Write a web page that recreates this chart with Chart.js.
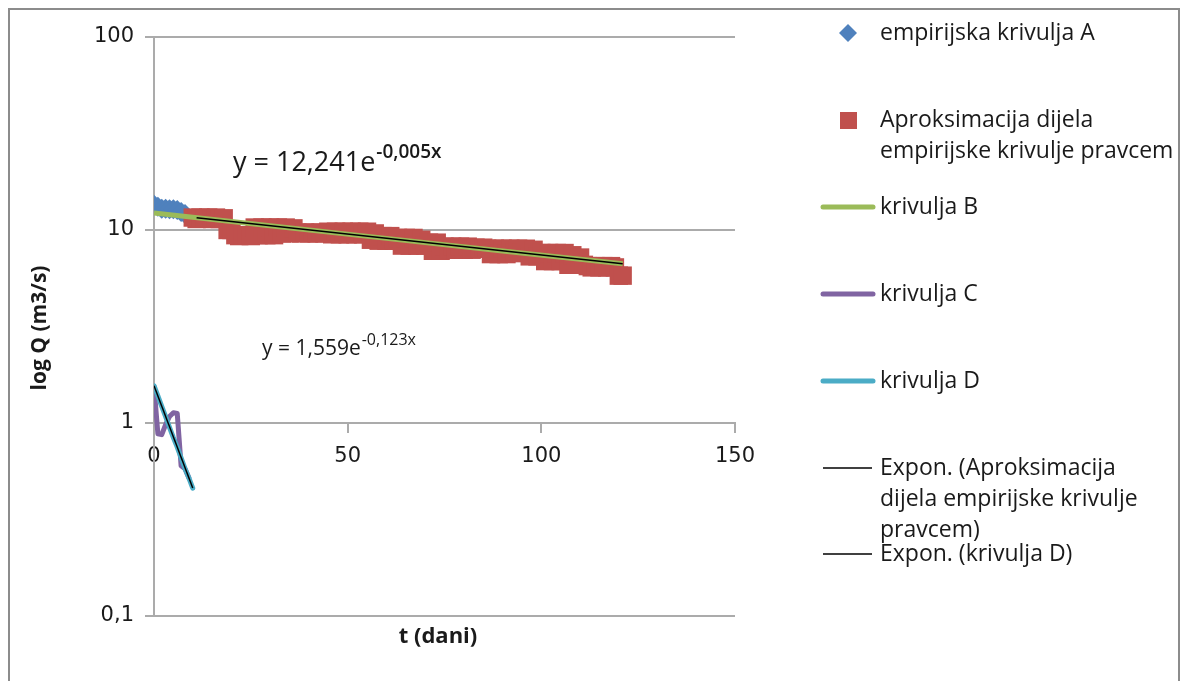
<!DOCTYPE html>
<html>
<head>
<meta charset="utf-8">
<script src="https://cdn.jsdelivr.net/npm/chart.js@4.4.0/dist/chart.umd.min.js"></script>
<style>
  html, body { margin: 0; padding: 0; background: #fff; }
  #wrap { position: relative; width: 1186px; height: 681px; overflow: hidden; }
</style>
</head>
<body>
<div id="wrap">
  <canvas id="qChart" width="1186" height="681"></canvas>
</div>
<script>
// Data
const daysA = [0, 1, 2, 3, 4, 5, 6, 7, 8];
const qA = [13.5, 13.2, 12.9, 12.9, 12.8, 12.8, 12.7, 12.4, 12.1];

const daysRed = [10, 11, 12, 13, 14, 15, 16, 17, 18, 19, 20, 21, 22, 23, 24, 25, 26, 27, 28, 29,
  30, 31, 32, 33, 34, 35, 36, 37, 38, 39, 40, 41, 42, 43, 44, 45, 46, 47, 48, 49,
  50, 51, 52, 53, 54, 55, 56, 57, 58, 59, 60, 61, 62, 63, 64, 65, 66, 67, 68, 69,
  70, 71, 72, 73, 74, 75, 76, 77, 78, 79, 80, 81, 82, 83, 84, 85, 86, 87, 88, 89,
  90, 91, 92, 93, 94, 95, 96, 97, 98, 99, 100, 101, 102, 103, 104, 105, 106, 107, 108, 109,
  110, 111, 112, 113, 114, 115, 116, 117, 118, 119, 120, 121];
const qRed = [11.6, 11.4, 11.6, 11.5, 11.6, 11.4, 11.6, 11.4, 11.5, 10.0, 10.0, 9.4, 9.3, 9.4, 9.4, 9.3, 10.3, 9.4, 10.3, 9.4,
  10.3, 9.4, 10.3, 9.6, 10.3, 9.6, 10.2, 9.7, 9.6, 9.7, 9.6, 9.7, 9.6, 9.7, 9.6, 9.8, 9.5, 9.8, 9.5, 9.8,
  9.5, 9.8, 9.5, 9.8, 9.5, 9.8, 8.9, 9.6, 8.8, 9.3, 8.8, 9.3, 8.8, 9.1, 8.3, 9.1, 8.3, 9.1, 8.3, 8.9,
  8.3, 8.6, 7.8, 8.6, 7.8, 8.2, 7.9, 8.2, 7.9, 8.2, 7.9, 8.2, 7.9, 8.1, 8.0, 8.1, 8.0, 7.5, 8.0, 7.5,
  8.0, 7.5, 8.0, 7.6, 8.0, 7.6, 8.0, 7.3, 7.9, 7.3, 7.6, 6.9, 7.6, 6.9, 7.6, 6.9, 7.6, 6.6, 7.4, 6.6,
  7.2, 6.6, 6.5, 6.4, 6.5, 6.4, 6.5, 6.4, 6.5, 6.4, 5.8, 5.8];

const daysB = [0, 30, 60, 90, 121];
const qB = [12.24, 10.52, 9.05, 7.79, 6.69];

const daysC = [0, 1, 2, 3, 4, 5, 6, 7, 8, 9];
const qC = [1.55, 0.88, 0.87, 0.98, 1.08, 1.13, 1.12, 0.6, 0.58, 0.52];

const daysD = [0, 1, 2, 3, 4, 5, 6, 7, 8, 9, 10];
const qD = [1.56, 1.38, 1.22, 1.08, 0.95, 0.84, 0.75, 0.66, 0.58, 0.52, 0.46];

// exponential trend lines (straight on the log axis, so the end points are enough)
const daysFitRed = [11, 121];
const qFitRed = [11.58, 6.69];
const daysFitD = [0, 10];
const qFitD = [1.56, 0.46];

const xTicks = [0, 50, 100, 150];
const yTicks = [0.1, 1, 10, 100];

const seriesNames = [
  'empirijska krivulja A',
  'Aproksimacija dijela\nempirijske krivulje pravcem',
  'krivulja B',
  'krivulja C',
  'krivulja D',
  'Expon. (Aproksimacija\ndijela empirijske krivulje\npravcem)',
  'Expon. (krivulja D)'
];

function pts(xs, ys) {
  return xs.map((x, i) => ({ x: x, y: ys[i] }));
}

const GRID = '#ababab';
const TEXT = '#1a1a1a';

// Titles, trend equations, legend and outer frame
const extrasPlugin = {
  id: 'extras',
  afterDraw(chart) {
    const ctx = chart.ctx;
    ctx.save();

    // outer frame
    ctx.strokeStyle = '#8c8c8c';
    ctx.lineWidth = 2;
    ctx.strokeRect(9, 9, 1170, 700);

    ctx.fillStyle = TEXT;
    ctx.textBaseline = 'middle';

    // axis titles
    ctx.font = 'bold 22px "Open Sans"';
    ctx.textAlign = 'center';
    ctx.fillText('t (dani)', 438, 637);
    ctx.font = 'bold 21px "Open Sans"';
    ctx.save();
    ctx.translate(40, 328);
    ctx.rotate(-Math.PI / 2);
    ctx.fillText('log Q (m3/s)', 0, 0);
    ctx.restore();

    // trend equations
    ctx.textAlign = 'left';
    ctx.textBaseline = 'alphabetic';
    ctx.font = '27px "Open Sans"';
    ctx.fillText('y = 12,241e', 233, 171);
    let w = ctx.measureText('y = 12,241e').width;
    ctx.font = '600 19px "Open Sans"';
    ctx.fillText('-0,005x', 233 + w + 1, 158);

    ctx.font = '21px "Open Sans"';
    ctx.fillText('y = 1,559e', 262, 355);
    w = ctx.measureText('y = 1,559e').width;
    ctx.font = '16px "Open Sans"';
    ctx.fillText('-0,123x', 262 + w + 1, 345);

    // legend
    const ds = chart.data.datasets;
    const legendY = [33, 120, 207, 294, 381, 468, 554];
    const lineGap = 31;
    ctx.textBaseline = 'middle';
    ctx.font = '23px "Open Sans"';
    ds.forEach((d, i) => {
      const y = legendY[i];
      if (d.showLine === false) {
        ctx.fillStyle = d.backgroundColor;
        ctx.beginPath();
        if (d.pointStyle === 'rectRot') {
          const r = 9;
          ctx.moveTo(848 - r, y);
          ctx.lineTo(848, y - r);
          ctx.lineTo(848 + r, y);
          ctx.lineTo(848, y + r);
        } else {
          ctx.rect(840, y - 8, 17, 17);
        }
        ctx.closePath();
        ctx.fill();
      } else {
        ctx.strokeStyle = d.borderColor;
        ctx.lineWidth = d.borderWidth;
        ctx.lineCap = d.borderWidth > 2 ? 'round' : 'butt';
        ctx.beginPath();
        ctx.moveTo(823, y);
        ctx.lineTo(d.borderWidth > 2 ? 873 : 872, y);
        ctx.stroke();
      }
      ctx.fillStyle = TEXT;
      seriesNames[i].split('\n').forEach((line, k) => {
        ctx.fillText(line, 880, y + k * lineGap);
      });
    });
    ctx.restore();
  }
};

const ctx = document.getElementById('qChart').getContext('2d');
const qChart = new Chart(ctx, {
  type: 'scatter',
  data: {
    datasets: [
      {
        label: seriesNames[0],
        data: pts(daysA, qA),
        showLine: false,
        pointStyle: 'rectRot',
        pointRadius: 10,
        backgroundColor: '#4f81bd',
        borderColor: '#4f81bd',
        borderWidth: 0,
        order: 7
      },
      {
        label: seriesNames[1],
        data: pts(daysRed, qRed),
        showLine: false,
        pointStyle: 'rect',
        pointRadius: 13,
        backgroundColor: '#c0504d',
        borderColor: '#c0504d',
        borderWidth: 0,
        order: 6
      },
      {
        label: seriesNames[2],
        data: pts(daysB, qB),
        showLine: true,
        pointRadius: 0,
        borderColor: '#9bbb59',
        borderWidth: 5,
        order: 5
      },
      {
        label: seriesNames[3],
        data: pts(daysC, qC),
        showLine: true,
        pointRadius: 0,
        borderColor: '#8064a2',
        borderWidth: 5,
        borderJoinStyle: 'round',
        borderCapStyle: 'round',
        order: 4
      },
      {
        label: seriesNames[4],
        data: pts(daysD, qD),
        showLine: true,
        pointRadius: 0,
        borderColor: '#4bacc6',
        borderWidth: 5,
        borderCapStyle: 'round',
        order: 3
      },
      {
        label: seriesNames[5],
        data: pts(daysFitRed, qFitRed),
        showLine: true,
        pointRadius: 0,
        borderColor: '#000000',
        borderWidth: 1.5,
        order: 2
      },
      {
        label: seriesNames[6],
        data: pts(daysFitD, qFitD),
        showLine: true,
        pointRadius: 0,
        borderColor: '#000000',
        borderWidth: 1.5,
        order: 1
      }
    ]
  },
  options: {
    responsive: false,
    animation: false,
    events: [],
    layout: {
      padding: { left: 0, right: 451, top: 37, bottom: 65 }
    },
    plugins: {
      legend: { display: false },
      tooltip: { enabled: false }
    },
    scales: {
      x: {
        type: 'linear',
        position: { y: 1 },
        min: 0,
        max: 150,
        afterBuildTicks: (scale) => {
          scale.ticks = xTicks.map(v => ({ value: v }));
        },
        ticks: {
          color: TEXT,
          font: { family: '"DejaVu Sans"', size: 21 },
          padding: 12,
          maxRotation: 0
        },
        grid: {
          drawOnChartArea: false,
          drawTicks: true,
          tickLength: 9,
          color: GRID,
          lineWidth: 2
        },
        border: { display: true, color: GRID, width: 2 }
      },
      y: {
        type: 'logarithmic',
        min: 0.1,
        max: 100,
        afterBuildTicks: (scale) => {
          scale.ticks = yTicks.map(v => ({ value: v }));
        },
        afterFit: (scale) => {
          scale.width = 154;
        },
        ticks: {
          color: TEXT,
          font: { family: '"DejaVu Sans"', size: 21 },
          padding: 11,
          callback: (v) => String(v).replace('.', ',')
        },
        grid: {
          drawTicks: true,
          tickLength: 9,
          color: GRID,
          lineWidth: 2
        },
        border: { display: true, color: GRID, width: 2 }
      }
    }
  },
  plugins: [extrasPlugin]
});
</script>
</body>
</html>
